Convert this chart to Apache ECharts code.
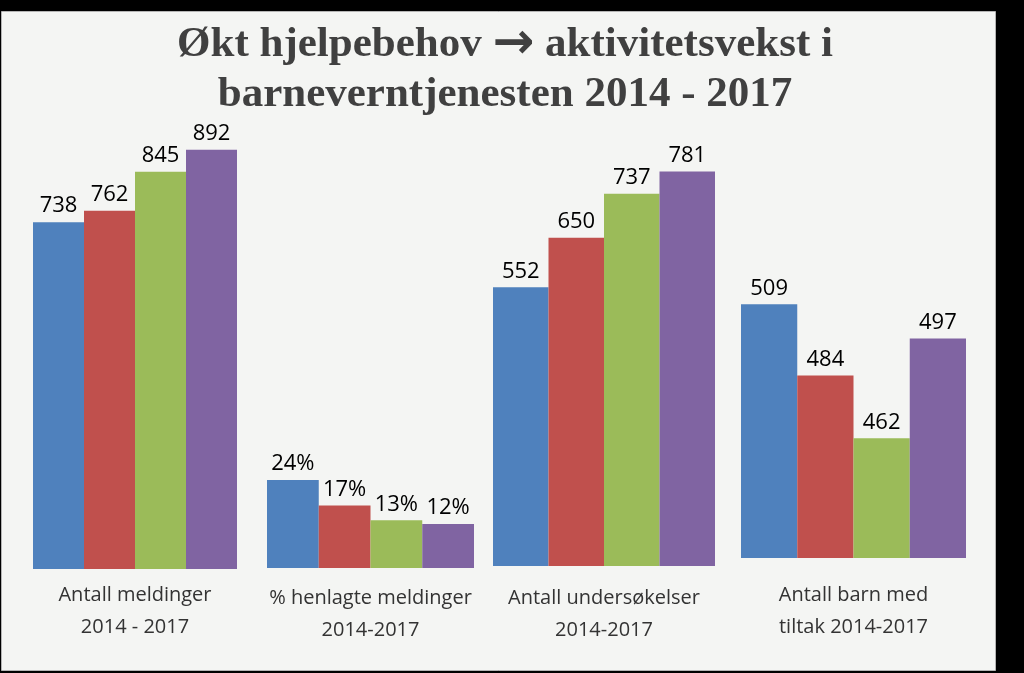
<!DOCTYPE html>
<html>
<head>
<meta charset="utf-8">
<script src="https://cdn.jsdelivr.net/npm/echarts@6/dist/echarts.min.js"></script>
<style>
  html, body { margin: 0; padding: 0; background: #000; }
  #chart { width: 1024px; height: 673px; }
</style>
</head>
<body>
<div id="chart"></div>
<script>
// ---- data ----
const titleLine1a = 'Økt hjelpebehov ';
const titleArrow = '→';
const titleLine1b = ' aktivitetsvekst i';
const titleLine2 = 'barneverntjenesten 2014 - 2017';
const years = ['2014', '2015', '2016', '2017'];
const categories = [
  'Antall meldinger\n2014 - 2017',
  '% henlagte meldinger\n2014-2017',
  'Antall undersøkelser\n2014-2017',
  'Antall barn med\ntiltak 2014-2017'
];
const meldinger = [738, 762, 845, 892];
const henlagteProsent = [24, 17, 13, 12];
const undersokelser = [552, 650, 737, 781];
const barnMedTiltak = [509, 484, 462, 497];
const groupValues = [meldinger, henlagteProsent, undersokelser, barnMedTiltak];
const labelSuffix = ['', '%', '', ''];

// ---- layout / style ----
const colors = ['#4f81bd', '#c0504d', '#9bbb59', '#8064a2'];
const grids = [
  { left: 33,  width: 204, top: 99,  height: 470 },
  { left: 267, width: 207, top: 201, height: 367 },
  { left: 493, width: 222, top: 61,  height: 505 },
  { left: 741, width: 225, top: 273, height: 285 }
];
const yRanges = [
  { min: 0, max: 1000 },
  { min: 0, max: 100 },
  { min: 0, max: 1000 },
  { min: 420, max: 520 }
];
const labelMargins = [10, 14, 16, 21];

const chart = echarts.init(document.getElementById('chart'));

const xAxis = [], yAxis = [], series = [];
categories.forEach((cat, g) => {
  xAxis.push({
    type: 'category', gridIndex: g, data: [cat],
    axisLine: { show: false }, axisTick: { show: false },
    axisLabel: {
      interval: 0, margin: labelMargins[g], fontSize: 20, lineHeight: 32,
      fontFamily: 'Open Sans', color: '#333333'
    }
  });
  yAxis.push({
    type: 'value', gridIndex: g, min: yRanges[g].min, max: yRanges[g].max,
    show: false, splitLine: { show: false }
  });
  years.forEach((yr, i) => {
    series.push({
      type: 'bar', name: yr, xAxisIndex: g, yAxisIndex: g,
      data: [groupValues[g][i]],
      barGap: '0%', barCategoryGap: '0%',
      itemStyle: { color: colors[i] },
      label: {
        show: true, position: 'top', distance: 5,
        fontSize: 22, fontFamily: 'Open Sans', color: '#000',
        formatter: p => p.value + labelSuffix[g]
      },
      animation: false
    });
  });
});

const tFont = { fontFamily: 'Liberation Serif', fontWeight: 'bold', fontSize: 43, lineHeight: 50, color: '#404040' };

chart.setOption({
  backgroundColor: '#000',
  animation: false,
  title: {
    text: '{t|' + titleLine1a + '}{a|' + titleArrow + '}{t|' + titleLine1b + '}\n{t|' + titleLine2 + '}',
    left: 500, textAlign: 'center', top: 15,
    textStyle: {
      fontFamily: 'Liberation Serif', fontWeight: 'bold', fontSize: 43, lineHeight: 50, color: '#404040',
      rich: {
        t: tFont,
        a: { fontFamily: 'DejaVu Sans', fontWeight: 'bold', fontSize: 50, lineHeight: 50, color: '#404040' }
      }
    }
  },
  graphic: [{
    type: 'rect', z: -10, silent: true,
    shape: { x: 1.5, y: 11.5, width: 994, height: 659 },
    style: { fill: '#f4f5f3', stroke: '#b4b4b4', lineWidth: 1 }
  }],
  grid: grids.map(gr => Object.assign({ containLabel: false }, gr)),
  xAxis, yAxis, series
});
</script>
</body>
</html>
